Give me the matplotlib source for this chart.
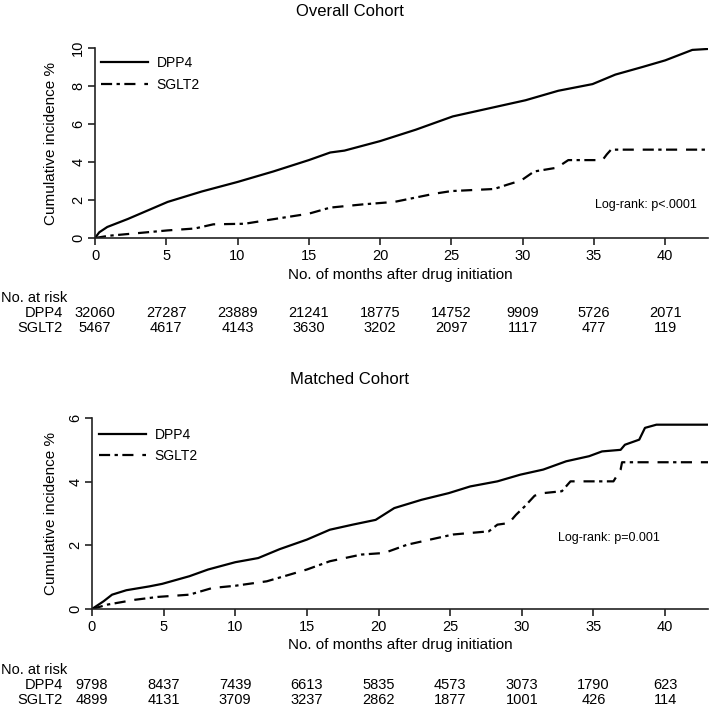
import matplotlib
matplotlib.use("Agg")
import matplotlib.pyplot as plt
from matplotlib.transforms import blended_transform_factory

plt.rcParams['font.family'] = ['Liberation Sans', 'DejaVu Sans']

# ---------------- data ----------------
# Overall cohort
ov_dpp4_t = [0, 0.3, 0.86, 2.3, 5.1, 7.5, 10.0, 12.5, 15.0, 16.5, 17.5, 20.0, 22.5, 25.1, 27.5, 30.2, 32.5, 34.9, 36.5, 38.4, 40.0, 41.9, 43.0]
ov_dpp4_y = [0, 0.3, 0.58, 1.0, 1.9, 2.45, 2.95, 3.5, 4.1, 4.5, 4.6, 5.1, 5.7, 6.4, 6.8, 7.25, 7.75, 8.1, 8.6, 9.0, 9.35, 9.9, 9.95]

ov_sglt2_t = [0, 1.0, 5.1, 7.0, 8.3, 10.5, 12.0, 15.0, 16.5, 18.8, 21.0, 23.8, 25.0, 28.0, 28.9, 29.9, 30.8, 32.4, 33.2, 35.6, 35.9, 36.2, 43.0]
ov_sglt2_y = [0, 0.12, 0.4, 0.5, 0.72, 0.75, 0.93, 1.28, 1.6, 1.77, 1.9, 2.33, 2.47, 2.58, 2.8, 3.03, 3.5, 3.7, 4.1, 4.1, 4.4, 4.65, 4.65]

# Matched cohort
mt_dpp4_t = [0, 0.8, 1.4, 2.4, 4.0, 4.9, 6.8, 8.1, 10.0, 11.6, 13.1, 15.0, 16.6, 18.2, 19.8, 21.1, 23.0, 24.9, 26.4, 28.3, 29.9, 31.5, 33.1, 34.7, 35.6, 36.9, 37.2, 38.2, 38.6, 39.4, 43.0]
mt_dpp4_y = [0, 0.24, 0.45, 0.59, 0.71, 0.79, 1.03, 1.24, 1.47, 1.6, 1.88, 2.18, 2.49, 2.65, 2.8, 3.17, 3.43, 3.64, 3.85, 4.01, 4.22, 4.38, 4.64, 4.8, 4.95, 5.0, 5.16, 5.32, 5.69, 5.79, 5.79]

mt_sglt2_t = [0, 1.1, 3.0, 4.6, 6.8, 8.4, 10.0, 12.2, 13.8, 15.0, 16.6, 18.8, 20.4, 22.0, 23.6, 25.2, 27.7, 28.3, 29.1, 29.6, 30.2, 30.9, 31.5, 32.8, 33.4, 36.4, 36.9, 37.0, 43.0]
mt_sglt2_y = [0, 0.14, 0.29, 0.38, 0.45, 0.66, 0.73, 0.87, 1.08, 1.24, 1.5, 1.71, 1.76, 2.02, 2.18, 2.34, 2.44, 2.65, 2.7, 2.96, 3.22, 3.56, 3.64, 3.7, 4.01, 4.01, 4.38, 4.61, 4.61]

risk_times = [0, 5, 10, 15, 20, 25, 30, 35, 40]
ov_risk_dpp4 = [32060, 27287, 23889, 21241, 18775, 14752, 9909, 5726, 2071]
ov_risk_sglt2 = [5467, 4617, 4143, 3630, 3202, 2097, 1117, 477, 119]
mt_risk_dpp4 = [9798, 8437, 7439, 6613, 5835, 4573, 3073, 1790, 623]
mt_risk_sglt2 = [4899, 4131, 3709, 3237, 2862, 1877, 1001, 426, 114]

titles = ["Overall Cohort", "Matched Cohort"]
pvals = ["Log-rank: p<.0001", "Log-rank: p=0.001"]
ymaxes = [10, 6]
yticks = [[0, 2, 4, 6, 8, 10], [0, 2, 4, 6]]

# ---------------- figure ----------------
W, H = 709, 706
fig = plt.figure(figsize=(W / 100, H / 100), dpi=100)

def fx(px):
    return px / W

def fy(py):
    return 1 - py / H

dash = (0, (5, 2, 1.5, 2, 5, 4))

panels = [
    dict(left=95, right=708, top=48, bottom=238, title_y=11, title_x=350,
         p_x=697, p_y=205, xlabel_y=275, risk_y=[298, 313, 328],
         leg_top=56, leg_x=101, leg_dy=22,
         data=(ov_dpp4_t, ov_dpp4_y, ov_sglt2_t, ov_sglt2_y, ov_risk_dpp4, ov_risk_sglt2)),
    dict(left=92, right=708, top=418, bottom=609, title_y=380, title_x=350,
         p_x=660, p_y=538, xlabel_y=645, risk_y=[670, 685, 700],
         leg_top=428, leg_x=99, leg_dy=21,
         data=(mt_dpp4_t, mt_dpp4_y, mt_sglt2_t, mt_sglt2_y, mt_risk_dpp4, mt_risk_sglt2)),
]

for i, p in enumerate(panels):
    ax = fig.add_axes([fx(p['left']), fy(p['bottom']),
                       fx(p['right'] - p['left']), (p['bottom'] - p['top']) / H])
    dt, dy, st, sy, rd, rs = p['data']
    l1, = ax.plot(dt, dy, color='black', lw=1.6, label='DPP4')
    l2, = ax.plot(st, sy, color='black', lw=1.6, linestyle=dash, label='SGLT2')
    ax.set_xlim(0, 43)
    ax.set_ylim(0, ymaxes[i])
    ax.set_xticks(risk_times)
    ax.set_yticks(yticks[i])
    for s in ['top', 'right']:
        ax.spines[s].set_visible(False)
    for s in ['left', 'bottom']:
        ax.spines[s].set_linewidth(1.2)
        ax.spines[s].set_color('#222222')
    ax.tick_params(axis='both', direction='out', length=5, width=1.2,
                   labelsize=10.5, color='#222222')
    ax.tick_params(axis='y', labelrotation=90, pad=2)
    for lab in ax.get_yticklabels():
        lab.set_verticalalignment('center')
    ax.tick_params(axis='x', pad=3)
    ax.set_ylabel("Cumulative incidence %", fontsize=11)
    ax.yaxis.set_label_coords((58 - p['left']) / (p['right'] - p['left']), 0.5)

    ax.legend(handles=[l1, l2], loc='upper left', frameon=False,
              bbox_to_anchor=(fx(p['leg_x']), fy(p['leg_top'])),
              bbox_transform=fig.transFigure,
              fontsize=10, handlelength=3.4, handletextpad=0.6,
              labelspacing=(p['leg_dy'] - 13.9) / 13.9, borderaxespad=0,
              borderpad=0)

    fig.text(fx(p['title_x']), fy(p['title_y']), titles[i], ha='center',
             va='center', fontsize=12)
    fig.text(fx(p['p_x']), fy(p['p_y']), pvals[i], ha='right', va='center',
             fontsize=9)
    fig.text(fx(400), fy(p['xlabel_y']), "No. of months after drug initiation",
             ha='center', va='center', fontsize=11)

    tr = blended_transform_factory(ax.transData, fig.transFigure)
    fig.text(fx(1), fy(p['risk_y'][0]), "No. at risk", ha='left', va='center',
             fontsize=10.5)
    fig.text(fx(63), fy(p['risk_y'][1]), "DPP4", ha='right', va='center',
             fontsize=10.5)
    fig.text(fx(63), fy(p['risk_y'][2]), "SGLT2", ha='right', va='center',
             fontsize=10.5)
    for t, a, b in zip(risk_times, rd, rs):
        fig.text(t, fy(p['risk_y'][1]), str(a), ha='center', va='center',
                 fontsize=10.5, transform=tr)
        fig.text(t, fy(p['risk_y'][2]), str(b), ha='center', va='center',
                 fontsize=10.5, transform=tr)

fig.savefig("out.png", dpi=100)
